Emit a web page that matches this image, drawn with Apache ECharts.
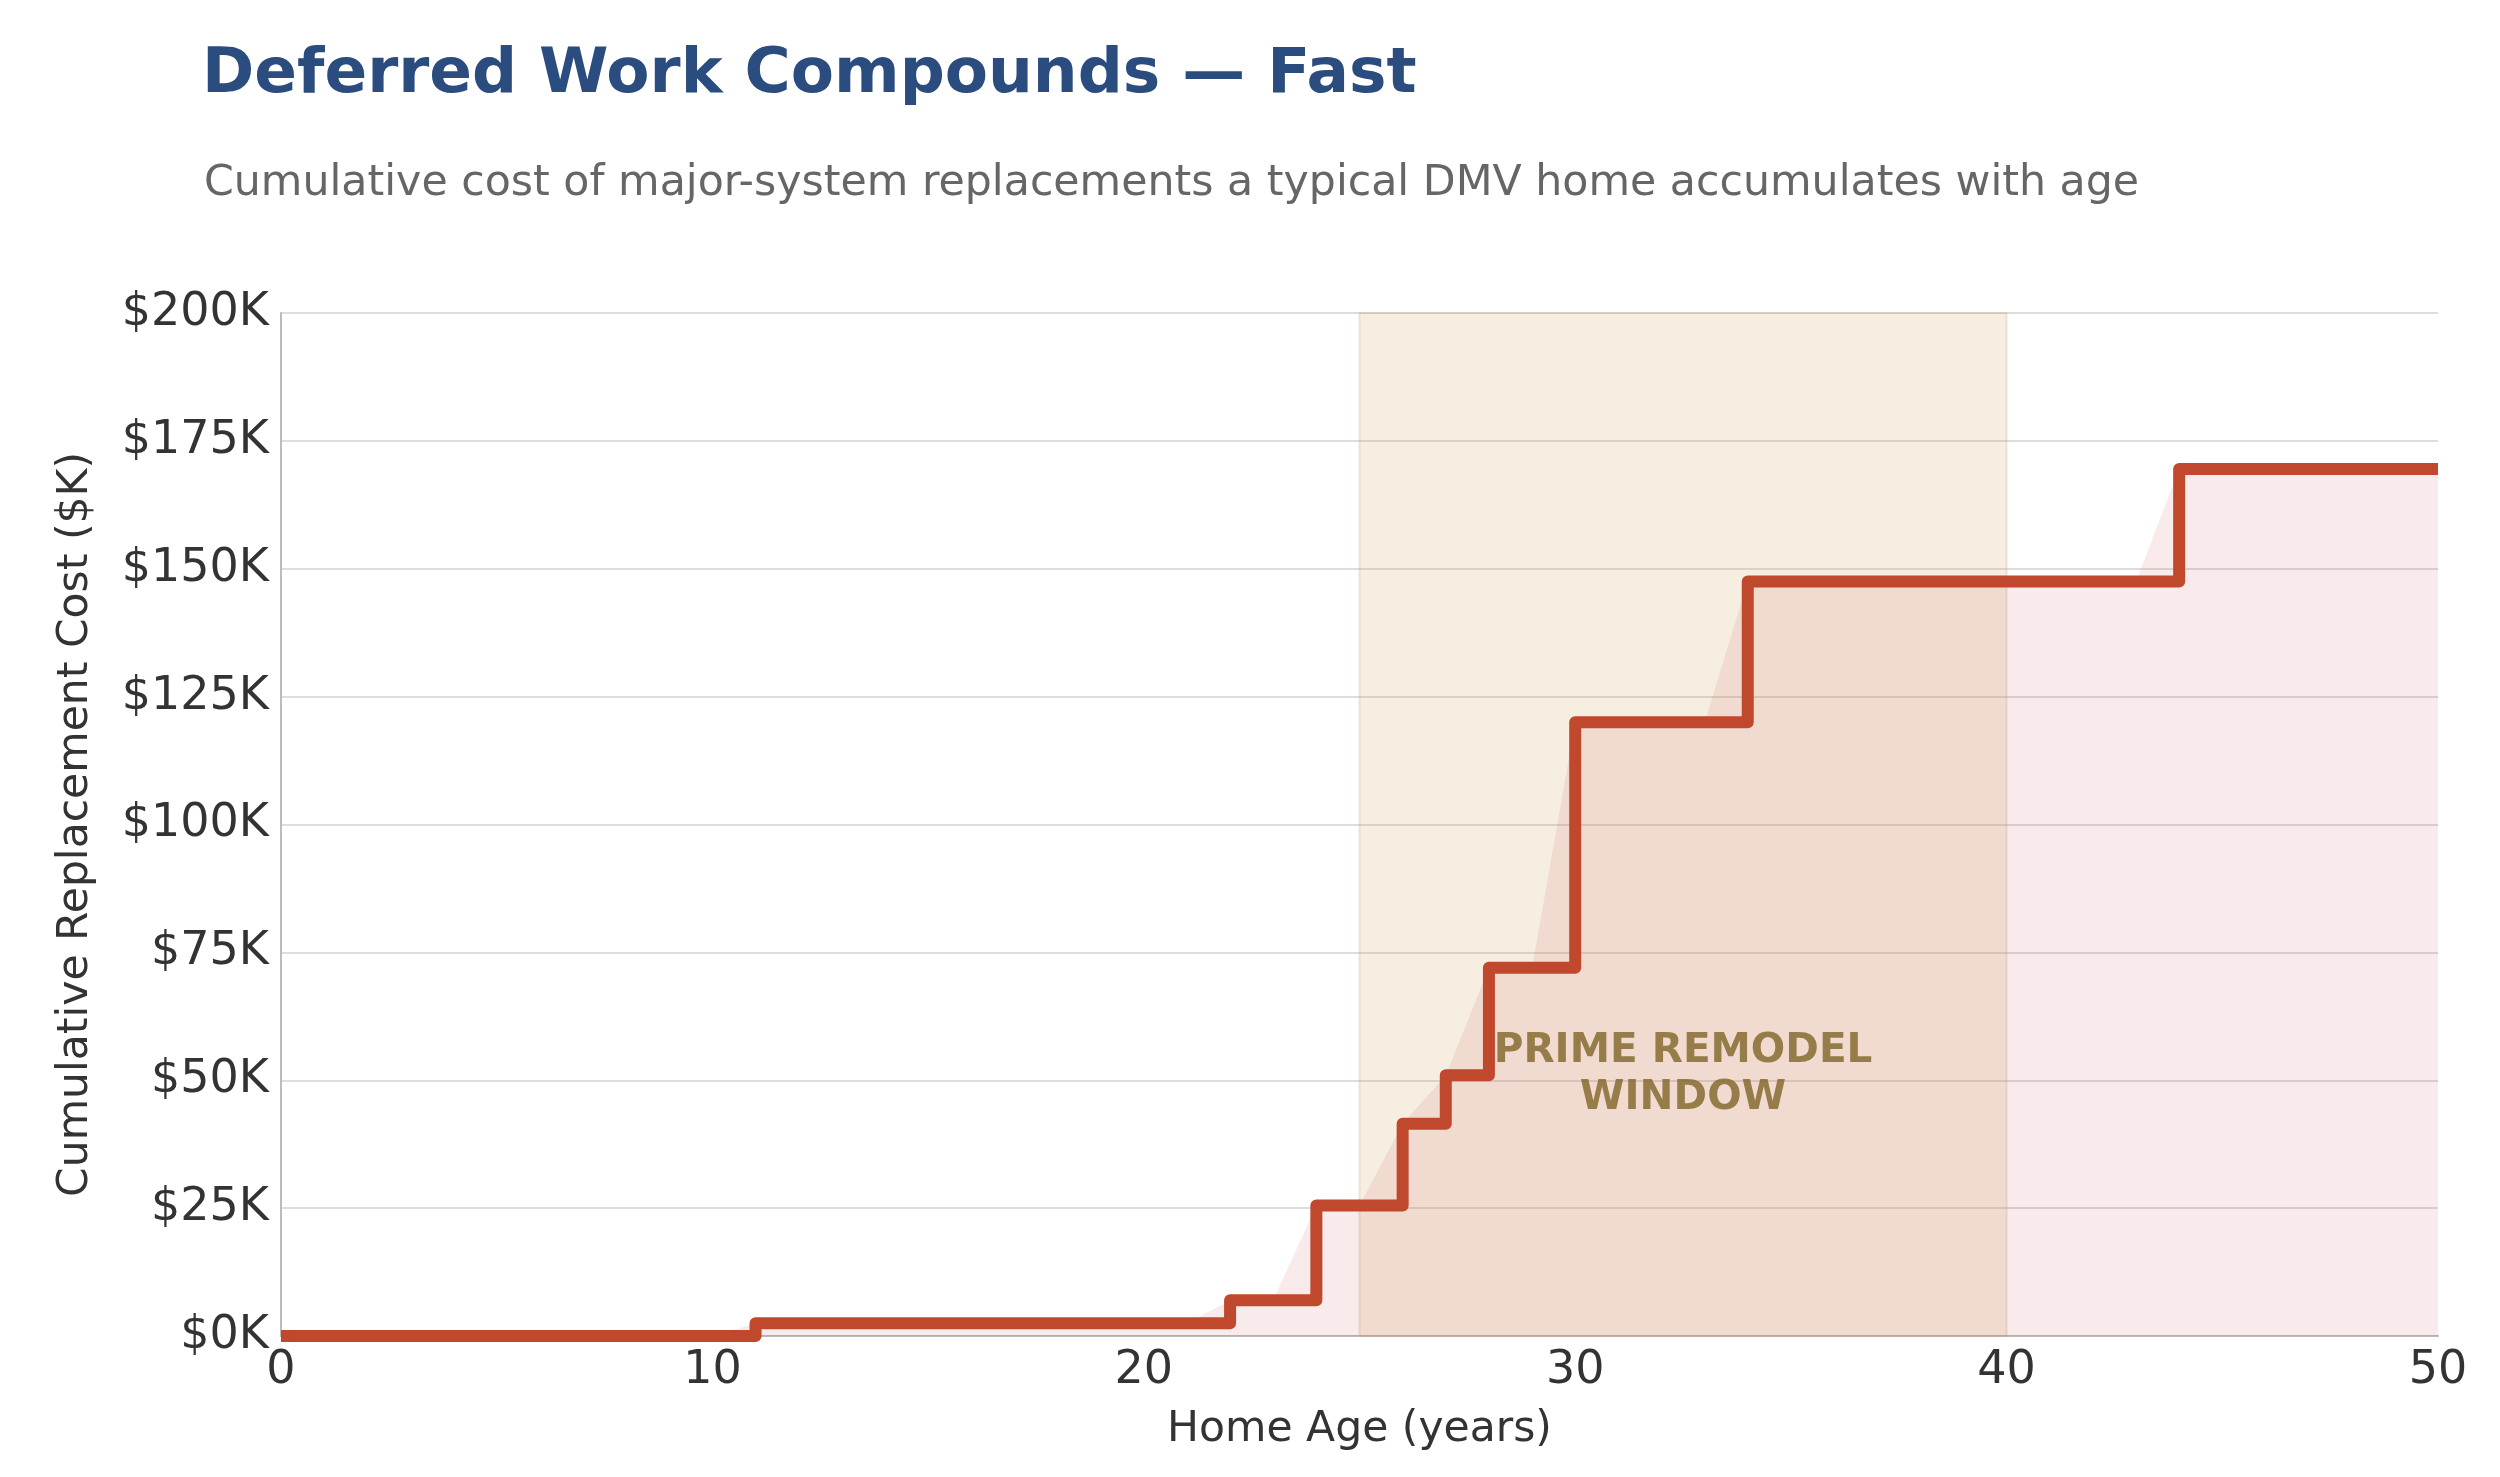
<!DOCTYPE html>
<html>
<head>
<meta charset="utf-8">
<title>Deferred Work Compounds</title>
<script src="https://cdn.jsdelivr.net/npm/echarts@6/dist/echarts.min.js"></script>
<style>
  html, body { margin: 0; padding: 0; background: #fff; }
  #chart { width: 2500px; height: 1477px; }
</style>
</head>
<body>
<div id="chart"></div>
<script>
// home age in years, one point per year
const ages = [
  0, 1, 2, 3, 4, 5, 6, 7, 8, 9, 10,
  11, 12, 13, 14, 15, 16, 17, 18, 19, 20,
  21, 22, 23, 24, 25, 26, 27, 28, 29, 30,
  31, 32, 33, 34, 35, 36, 37, 38, 39, 40,
  41, 42, 43, 44, 45, 46, 47, 48, 49, 50
];
// cumulative replacement cost, $K
const cumulativeCost = [
  0, 0, 0, 0, 0, 0, 0, 0, 0, 0, 0,
  2.5, 2.5, 2.5, 2.5, 2.5, 2.5, 2.5, 2.5, 2.5, 2.5,
  2.5, 7, 7, 25.5, 25.5, 41.5, 51, 72, 72, 120,
  120, 120, 120, 147.5, 147.5, 147.5, 147.5, 147.5, 147.5, 147.5,
  147.5, 147.5, 147.5, 169.5, 169.5, 169.5, 169.5, 169.5, 169.5, 169.5
];
// prime remodel window (years)
const remodelWindow = [25, 40];
const remodelLabel = 'PRIME REMODEL\nWINDOW';
const remodelLabelAt = [32.5, 51];

const FONT = 'DejaVu Sans';
const points = ages.map((a, i) => [a, cumulativeCost[i]]);

const chart = echarts.init(document.getElementById('chart'), null, { renderer: 'canvas' });

chart.setOption({
  backgroundColor: '#ffffff',
  animation: false,
  title: [
    {
      text: 'Deferred Work Compounds — Fast',
      left: 197,
      top: 38,
      textStyle: { fontFamily: FONT, fontSize: 63, fontWeight: 'bold', color: '#2b4c7e', lineHeight: 66 }
    },
    {
      text: 'Cumulative cost of major-system replacements a typical DMV home accumulates with age',
      left: 199,
      top: 156,
      textStyle: { fontFamily: FONT, fontSize: 42.7, fontWeight: 'normal', color: '#666666', lineHeight: 46 }
    }
  ],
  grid: { left: 281, right: 62, top: 313, bottom: 141, containLabel: false },
  xAxis: {
    type: 'value',
    min: 0,
    max: 50,
    interval: 10,
    name: 'Home Age (years)',
    nameLocation: 'middle',
    nameGap: 72,
    nameTextStyle: { fontFamily: FONT, fontSize: 42.5, color: '#333333' },
    axisLine: { show: true, lineStyle: { color: '#bbbbbb', width: 2 } },
    axisTick: { show: false },
    axisLabel: { fontFamily: FONT, fontSize: 46, color: '#333333', margin: 12 },
    splitLine: { show: false }
  },
  yAxis: {
    type: 'value',
    min: 0,
    max: 200,
    interval: 25,
    name: 'Cumulative Replacement Cost ($K)',
    nameLocation: 'middle',
    nameGap: 184,
    nameTextStyle: { fontFamily: FONT, fontSize: 42.5, color: '#333333' },
    axisLine: { show: true, lineStyle: { color: '#bbbbbb', width: 2 } },
    axisTick: { show: false },
    axisLabel: { fontFamily: FONT, fontSize: 46, color: '#333333', margin: 12, formatter: '${value}K' },
    splitLine: { show: true, lineStyle: { color: '#dddddd', width: 2 } }
  },
  series: [
    {
      // shaded remodel window band
      name: 'window',
      type: 'line',
      data: [],
      z: 1,
      markArea: {
        silent: true,
        itemStyle: {
          color: 'rgba(214, 170, 112, 0.2)',
          borderColor: 'rgba(200, 160, 110, 0.25)',
          borderWidth: 2
        },
        data: [[{ xAxis: remodelWindow[0] }, { xAxis: remodelWindow[1] }]]
      }
    },
    {
      // light fill under yearly points
      name: 'fill',
      type: 'line',
      data: points,
      z: 2,
      symbol: 'none',
      lineStyle: { width: 0 },
      areaStyle: { color: 'rgba(192, 55, 60, 0.14)' },
      silent: true
    },
    {
      name: 'Cumulative cost',
      type: 'line',
      step: 'end',
      data: points,
      z: 3,
      symbol: 'none',
      lineStyle: { color: '#c0482c', width: 12, join: 'round' }
    },
    {
      name: 'label',
      type: 'scatter',
      data: [remodelLabelAt],
      z: 4,
      symbolSize: 0,
      silent: true,
      label: {
        show: true,
        position: 'inside',
        formatter: remodelLabel,
        fontFamily: FONT,
        fontSize: 40.5,
        fontWeight: 'bold',
        color: '#806426',
        lineHeight: 47,
        align: 'center'
      }
    }
  ]
});
</script>
</body>
</html>
